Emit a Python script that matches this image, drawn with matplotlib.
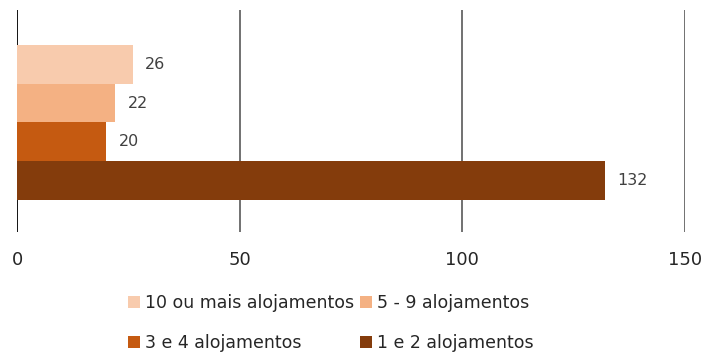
import matplotlib
matplotlib.use('Agg')
from matplotlib import pyplot as plt

# alojamentos por edifício
series = ['10 ou mais alojamentos', '5 - 9 alojamentos', '3 e 4 alojamentos', '1 e 2 alojamentos']
values = [26, 22, 20, 132]
colors = ['#F8CBAD', '#F4B183', '#C55A11', '#843C0C']
xticks = [0, 50, 100, 150]

plt.rcParams['font.family'] = ['DejaVu Sans']
text_color = '#262626'

fig = plt.figure(figsize=(7.01, 3.54), dpi=100)
ax = fig.add_axes([0.0243, 0.3446, 0.9529, 0.6272])

n = len(series)
bars = []
for i, (name, v, c) in enumerate(zip(series, values, colors)):
    pos = n - 1 - i
    b = ax.barh(pos, v, height=1.0, color=c, label=name, zorder=3)
    bars.append(b)
    ax.annotate(str(v), xy=(v, pos), xytext=(9, 0), textcoords='offset points',
                ha='left', va='center', fontsize=11.5, color='#404040')

ax.set_xlim(0, 150)
ax.set_ylim(-1.326, 4.403)
ax.set_xticks(xticks)
ax.set_yticks([])
ax.tick_params(axis='x', length=0, pad=14, labelsize=13, labelcolor=text_color)
for s in ax.spines.values():
    s.set_visible(False)
for x in xticks:
    ax.axvline(x, color='black' if x == 0 else '#595959', linewidth=1.3 if x == 0 else 1.2, zorder=1)

# legend fills column by column, so reorder to get the row layout
order = [0, 2, 1, 3]
handles = [bars[i] for i in order]
labels = [series[i] for i in order]
leg = fig.legend(handles, labels, loc='center', bbox_to_anchor=(0.472, 0.087), ncol=2,
                 frameon=False, fontsize=12.5, handlelength=0.7, handleheight=0.7,
                 handletextpad=0.3, columnspacing=0.3, labelspacing=1.3)
for t in leg.get_texts():
    t.set_color(text_color)

plt.savefig('out.png', dpi=100)
